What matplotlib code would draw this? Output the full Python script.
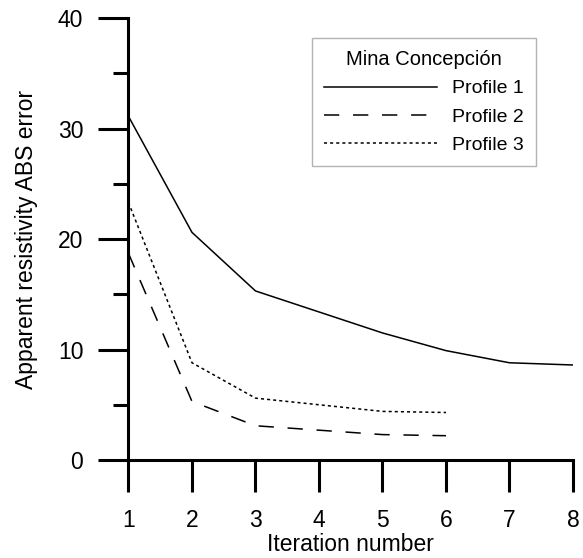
import matplotlib
matplotlib.use("Agg")
import matplotlib.pyplot as plt
from matplotlib.ticker import MultipleLocator

plt.rcParams['font.family'] = ['Liberation Sans', 'DejaVu Sans']

# Values
iterations_1 = [1, 2, 3, 4, 5, 6, 7, 8]
profile_1 = [31.1, 20.6, 15.3, 13.4, 11.5, 9.9, 8.8, 8.6]
iterations_23 = [1, 2, 3, 4, 5, 6]
profile_2 = [18.7, 5.3, 3.1, 2.7, 2.3, 2.2]
profile_3 = [23.3, 8.8, 5.6, 5.0, 4.4, 4.3]

fig = plt.figure(figsize=(5.83, 5.58), dpi=100)
ax = fig.add_axes([0.2204, 0.1756, 0.7624, 0.7921])

ax.plot(iterations_1, profile_1, color='black', lw=1.1, ls='-', label='Profile 1')
ax.plot(iterations_23, profile_2, color='black', lw=1.1, ls=(0, (10, 9)), label='Profile 2')
ax.plot(iterations_23, profile_3, color='black', lw=1.1, ls=(0, (2, 2)), label='Profile 3')

ax.set_xlim(1, 8)
ax.set_ylim(0, 40)
ax.set_xticks(range(1, 9))
ax.set_yticks([0, 10, 20, 30, 40])
ax.yaxis.set_minor_locator(MultipleLocator(5))

for side in ['top', 'right']:
    ax.spines[side].set_visible(False)
for side in ['left', 'bottom']:
    ax.spines[side].set_linewidth(2.2)

ax.tick_params(axis='x', which='major', direction='out', length=23, width=2.2,
               pad=12, labelsize=16.5)
ax.tick_params(axis='y', which='major', direction='out', length=21.5, width=2.2,
               pad=11, labelsize=16.5)
ax.tick_params(axis='y', which='minor', direction='out', length=11, width=2.2)

ax.set_xlabel('Iteration number', fontsize=16.5, va='baseline')
ax.xaxis.set_label_coords(0.5, -0.205)
ax.set_ylabel('Apparent resistivity ABS error', fontsize=16.5, labelpad=14)

leg = ax.legend(title='Mina Concepción', loc='upper left',
                bbox_to_anchor=(0.4128, 0.9548), borderaxespad=0,
                fontsize=14, title_fontsize=14.5,
                handlelength=5.8, handletextpad=0.77, fancybox=False,
                frameon=True, borderpad=0.62, labelspacing=0.55)
leg.get_frame().set_edgecolor('#a0a0a0')
leg.get_frame().set_linewidth(1.0)
leg._legend_box.align = 'center'

fig.savefig('out.png', dpi=100)
